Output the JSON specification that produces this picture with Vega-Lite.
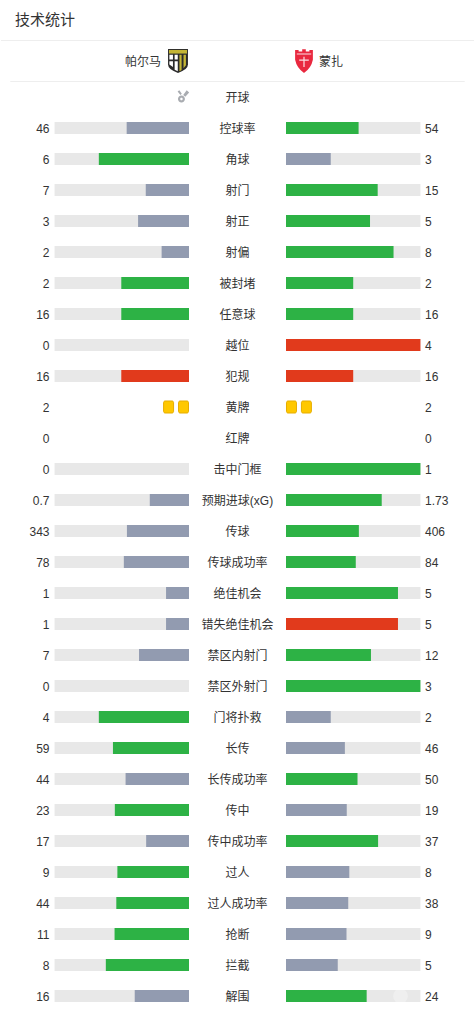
{
"$schema":"https://vega.github.io/schema/vega-lite/v6.json",
"width":475,"height":1012,"padding":0,
"autosize":{"type":"fit","contains":"padding"},
"background":"#ffffff",
"config":{"view":{"stroke":null},"text":{"font":"Liberation Sans, Noto Sans CJK SC","fontSize":12,"fill":"#333333"}},
"datasets":{
"stats":[
{"stat":"控球率","side":"left","label":"46","share":-46,"status":"trail"},{"stat":"控球率","side":"right","label":"54","share":54,"status":"lead"},
{"stat":"角球","side":"left","label":"6","share":-66.7,"status":"lead"},{"stat":"角球","side":"right","label":"3","share":33.3,"status":"trail"},
{"stat":"射门","side":"left","label":"7","share":-31.8,"status":"trail"},{"stat":"射门","side":"right","label":"15","share":68.2,"status":"lead"},
{"stat":"射正","side":"left","label":"3","share":-37.5,"status":"trail"},{"stat":"射正","side":"right","label":"5","share":62.5,"status":"lead"},
{"stat":"射偏","side":"left","label":"2","share":-20,"status":"trail"},{"stat":"射偏","side":"right","label":"8","share":80,"status":"lead"},
{"stat":"被封堵","side":"left","label":"2","share":-50,"status":"lead"},{"stat":"被封堵","side":"right","label":"2","share":50,"status":"lead"},
{"stat":"任意球","side":"left","label":"16","share":-50,"status":"lead"},{"stat":"任意球","side":"right","label":"16","share":50,"status":"lead"},
{"stat":"越位","side":"left","label":"0","share":0,"status":"trail"},{"stat":"越位","side":"right","label":"4","share":100,"status":"alert"},
{"stat":"犯规","side":"left","label":"16","share":-50,"status":"alert"},{"stat":"犯规","side":"right","label":"16","share":50,"status":"alert"},
{"stat":"黄牌","side":"left","label":"2"},{"stat":"黄牌","side":"right","label":"2"},
{"stat":"红牌","side":"left","label":"0"},{"stat":"红牌","side":"right","label":"0"},
{"stat":"击中门框","side":"left","label":"0","share":0,"status":"trail"},{"stat":"击中门框","side":"right","label":"1","share":100,"status":"lead"},
{"stat":"预期进球(xG)","side":"left","label":"0.7","share":-28.8,"status":"trail"},{"stat":"预期进球(xG)","side":"right","label":"1.73","share":71.2,"status":"lead"},
{"stat":"传球","side":"left","label":"343","share":-45.8,"status":"trail"},{"stat":"传球","side":"right","label":"406","share":54.2,"status":"lead"},
{"stat":"传球成功率","side":"left","label":"78","share":-48.1,"status":"trail"},{"stat":"传球成功率","side":"right","label":"84","share":51.9,"status":"lead"},
{"stat":"绝佳机会","side":"left","label":"1","share":-16.7,"status":"trail"},{"stat":"绝佳机会","side":"right","label":"5","share":83.3,"status":"lead"},
{"stat":"错失绝佳机会","side":"left","label":"1","share":-16.7,"status":"trail"},{"stat":"错失绝佳机会","side":"right","label":"5","share":83.3,"status":"alert"},
{"stat":"禁区内射门","side":"left","label":"7","share":-36.8,"status":"trail"},{"stat":"禁区内射门","side":"right","label":"12","share":63.2,"status":"lead"},
{"stat":"禁区外射门","side":"left","label":"0","share":0,"status":"trail"},{"stat":"禁区外射门","side":"right","label":"3","share":100,"status":"lead"},
{"stat":"门将扑救","side":"left","label":"4","share":-66.7,"status":"lead"},{"stat":"门将扑救","side":"right","label":"2","share":33.3,"status":"trail"},
{"stat":"长传","side":"left","label":"59","share":-56.2,"status":"lead"},{"stat":"长传","side":"right","label":"46","share":43.8,"status":"trail"},
{"stat":"长传成功率","side":"left","label":"44","share":-46.8,"status":"trail"},{"stat":"长传成功率","side":"right","label":"50","share":53.2,"status":"lead"},
{"stat":"传中","side":"left","label":"23","share":-54.8,"status":"lead"},{"stat":"传中","side":"right","label":"19","share":45.2,"status":"trail"},
{"stat":"传中成功率","side":"left","label":"17","share":-31.5,"status":"trail"},{"stat":"传中成功率","side":"right","label":"37","share":68.5,"status":"lead"},
{"stat":"过人","side":"left","label":"9","share":-52.9,"status":"lead"},{"stat":"过人","side":"right","label":"8","share":47.1,"status":"trail"},
{"stat":"过人成功率","side":"left","label":"44","share":-53.7,"status":"lead"},{"stat":"过人成功率","side":"right","label":"38","share":46.3,"status":"trail"},
{"stat":"抢断","side":"left","label":"11","share":-55,"status":"lead"},{"stat":"抢断","side":"right","label":"9","share":45,"status":"trail"},
{"stat":"拦截","side":"left","label":"8","share":-61.5,"status":"lead"},{"stat":"拦截","side":"right","label":"5","share":38.5,"status":"trail"},
{"stat":"解围","side":"left","label":"16","share":-40,"status":"trail"},{"stat":"解围","side":"right","label":"24","share":60,"status":"lead"}
],
"rows":[{"stat":"开球"},{"stat":"控球率"},{"stat":"角球"},{"stat":"射门"},{"stat":"射正"},{"stat":"射偏"},{"stat":"被封堵"},{"stat":"任意球"},{"stat":"越位"},{"stat":"犯规"},{"stat":"黄牌"},{"stat":"红牌"},{"stat":"击中门框"},{"stat":"预期进球(xG)"},{"stat":"传球"},{"stat":"传球成功率"},{"stat":"绝佳机会"},{"stat":"错失绝佳机会"},{"stat":"禁区内射门"},{"stat":"禁区外射门"},{"stat":"门将扑救"},{"stat":"长传"},{"stat":"长传成功率"},{"stat":"传中"},{"stat":"传中成功率"},{"stat":"过人"},{"stat":"过人成功率"},{"stat":"抢断"},{"stat":"拦截"},{"stat":"解围"}],
"cards":[{"stat":"黄牌","side":"left","from":-7.78,"to":-0.37},{"stat":"黄牌","side":"left","from":-18.89,"to":-11.48},{"stat":"黄牌","side":"right","from":0.37,"to":7.78},{"stat":"黄牌","side":"right","from":11.48,"to":18.89}],
"title":[{"stat":"技术统计"}],
"head":[{"stat":"header"}],
"kick":[{"stat":"开球"}],
"mark":[{"stat":"解围"}]
},
"encoding":{
"x":{"scale":{"domain":[-175.93,175.93],"nice":false,"zero":false},"axis":null,"title":null},
"y":{"field":"stat","type":"nominal","axis":null,"title":null,"scale":{"type":"point","padding":0,"range":[35,996],"domain":["技术统计","header","开球","控球率","角球","射门","射正","射偏","被封堵","任意球","越位","犯规","黄牌","红牌","击中门框","预期进球(xG)","传球","传球成功率","绝佳机会","错失绝佳机会","禁区内射门","禁区外射门","门将扑救","长传","长传成功率","传中","传中成功率","过人","过人成功率","抢断","拦截","解围"]}}
},
"layer":[
{"data":{"name":"title"},"mark":{"type":"rule","stroke":"#eeeeee","strokeWidth":1,"yOffset":5.5},"encoding":{"x":{"datum":-175.93,"type":"quantitative"},"x2":{"datum":175.93}}},
{"data":{"name":"head"},"mark":{"type":"rule","stroke":"#eeeeee","strokeWidth":1,"yOffset":15.5},"encoding":{"x":{"datum":-169,"type":"quantitative"},"x2":{"datum":169}}},
{"data":{"name":"title"},"mark":{"type":"text","align":"left","baseline":"middle","fontSize":15,"dx":-222.5,"yOffset":-15},"encoding":{"x":{"datum":0,"type":"quantitative"},"text":{"field":"stat"}}},
{"data":{"values":[{"stat":"header","team":"帕尔马"}]},"mark":{"type":"text","align":"right","baseline":"middle","dx":-76.5,"yOffset":-4},"encoding":{"x":{"datum":0,"type":"quantitative"},"text":{"field":"team"}}},
{"data":{"values":[{"stat":"header","team":"蒙扎"}]},"mark":{"type":"text","align":"left","baseline":"middle","dx":81.5,"yOffset":-4},"encoding":{"x":{"datum":0,"type":"quantitative"},"text":{"field":"team"}}},
{"data":{"name":"head"},"mark":{"type":"point","filled":true,"size":576,"opacity":1,"fill":"#2b2b2b","xOffset":-59.5,"yOffset":-5,"shape":"M-.83,-1L.83,-1L.83,.3Q.83,.72 0,1Q-.83,.72 -.83,.3Z"},"encoding":{"x":{"datum":0,"type":"quantitative"}}},
{"data":{"name":"head"},"mark":{"type":"point","filled":true,"size":576,"opacity":1,"fill":"#c4b534","xOffset":-59.5,"yOffset":-5,"shape":"M-.75,-.92L.75,-.92L.75,-.62L-.75,-.62Z"},"encoding":{"x":{"datum":0,"type":"quantitative"}}},
{"data":{"name":"head"},"mark":{"type":"point","filled":true,"size":576,"opacity":1,"fill":"#ffffff","xOffset":-59.5,"yOffset":-5,"shape":"M-.72,-.52L-.42,-.52L-.42,-.12L-.72,-.12ZM-.28,-.52L-.02,-.52L-.02,-.12L-.28,-.12ZM-.72,.02L-.42,.02L-.42,.5L-.72,.3ZM-.28,.02L-.02,.02L-.02,.85L-.28,.72Z"},"encoding":{"x":{"datum":0,"type":"quantitative"}}},
{"data":{"name":"head"},"mark":{"type":"point","filled":true,"size":576,"opacity":1,"fill":"#c4b534","xOffset":-59.5,"yOffset":-5,"shape":"M.12,-.52L.3,-.52L.3,.75L.12,.85ZM.46,-.52L.66,-.52L.66,.35L.46,.6Z"},"encoding":{"x":{"datum":0,"type":"quantitative"}}},
{"data":{"name":"head"},"mark":{"type":"point","filled":true,"size":576,"opacity":1,"fill":"#e9283f","xOffset":66.5,"yOffset":-5,"shape":"M-.74,-.92L-.45,-.92L-.45,-.8L-.15,-.8L-.15,-.98L.15,-.98L.15,-.8L.45,-.8L.45,-.92L.74,-.92L.74,-.1Q.6,.6 0,1Q-.6,.6 -.74,-.1Z"},"encoding":{"x":{"datum":0,"type":"quantitative"}}},
{"data":{"name":"head"},"mark":{"type":"point","filled":true,"size":576,"opacity":0.85,"fill":"#ffffff","xOffset":66.5,"yOffset":-5,"shape":"M-.6,-.62L.6,-.62L.6,-.54L-.6,-.54ZM-.05,-.35L.05,-.35L.05,-.12L.4,-.12L.4,-.02L.05,-.02L.05,.5L-.05,.5L-.05,-.02L-.4,-.02L-.4,-.12L-.05,-.12Z"},"encoding":{"x":{"datum":0,"type":"quantitative"}}},
{"data":{"name":"kick"},"mark":{"type":"point","filled":true,"size":196,"opacity":1,"fill":"#a9acb1","xOffset":-55,"shape":"M-.15,-.2A.5,.5 0 1 1 -.15,.8A.5,.5 0 1 1 -.15,-.2ZM-.15,.12A.18,.18 0 1 0 -.15,.48A.18,.18 0 1 0 -.15,.12ZM.1,-.3L.6,-.95L.95,-.65L.4,-.05ZM-.7,-.8L-.45,-.95L-.1,-.45L-.3,-.3Z"},"encoding":{"x":{"datum":0,"type":"quantitative"}}},
{"data":{"name":"stats"},"transform":[{"filter":"isValid(datum.share) && datum.side==='left'"}],"mark":{"type":"rect","height":12,"fill":"#e8e8e8","xOffset":-48.5,"x2Offset":-48.5},"encoding":{"x":{"datum":-100,"type":"quantitative"},"x2":{"datum":0}}},
{"data":{"name":"stats"},"transform":[{"filter":"isValid(datum.share) && datum.side==='right'"}],"mark":{"type":"rect","height":12,"fill":"#e8e8e8","xOffset":48.5,"x2Offset":48.5},"encoding":{"x":{"datum":0,"type":"quantitative"},"x2":{"datum":100}}},
{"data":{"name":"stats"},"transform":[{"filter":"isValid(datum.share) && datum.share<0 && datum.side==='left'"}],"mark":{"type":"rect","height":12,"xOffset":-49,"x2Offset":-48.5},"encoding":{"x":{"field":"share","type":"quantitative"},"x2":{"datum":0},"color":{"field":"status","type":"nominal","legend":null,"scale":{"domain":["lead","trail","alert"],"range":["#2db245","#929bb0","#e13a1c"]}}}},
{"data":{"name":"stats"},"transform":[{"filter":"isValid(datum.share) && datum.side==='right'"}],"mark":{"type":"rect","height":12,"xOffset":48.5,"x2Offset":48.5},"encoding":{"x":{"field":"share","type":"quantitative"},"x2":{"datum":0},"color":{"field":"status","type":"nominal","legend":null,"scale":{"domain":["lead","trail","alert"],"range":["#2db245","#929bb0","#e13a1c"]}}}},
{"data":{"name":"cards"},"transform":[{"filter":"datum.side==='left'"}],"mark":{"type":"rect","height":12,"fill":"#ffc800","stroke":"#e6ad00","strokeWidth":1,"cornerRadius":1.5,"xOffset":-48.5,"x2Offset":-48.5},"encoding":{"x":{"field":"from","type":"quantitative"},"x2":{"field":"to"}}},
{"data":{"name":"cards"},"transform":[{"filter":"datum.side==='right'"}],"mark":{"type":"rect","height":12,"fill":"#ffc800","stroke":"#e6ad00","strokeWidth":1,"cornerRadius":1.5,"xOffset":48.5,"x2Offset":48.5},"encoding":{"x":{"field":"from","type":"quantitative"},"x2":{"field":"to"}}},
{"data":{"name":"mark"},"mark":{"type":"point","filled":true,"shape":"circle","size":220,"opacity":0.3,"fill":"#ffffff","xOffset":163},"encoding":{"x":{"datum":0,"type":"quantitative"}}},
{"data":{"name":"rows"},"mark":{"type":"text","align":"center","baseline":"middle","dy":1},"encoding":{"x":{"datum":0,"type":"quantitative"},"text":{"field":"stat"}}},
{"data":{"name":"stats"},"transform":[{"filter":"datum.side==='left'"}],"mark":{"type":"text","align":"right","baseline":"middle","dx":-188,"dy":0.5},"encoding":{"x":{"datum":0,"type":"quantitative"},"text":{"field":"label"}}},
{"data":{"name":"stats"},"transform":[{"filter":"datum.side==='right'"}],"mark":{"type":"text","align":"left","baseline":"middle","dx":187.5,"dy":0.5},"encoding":{"x":{"datum":0,"type":"quantitative"},"text":{"field":"label"}}}
]
}
